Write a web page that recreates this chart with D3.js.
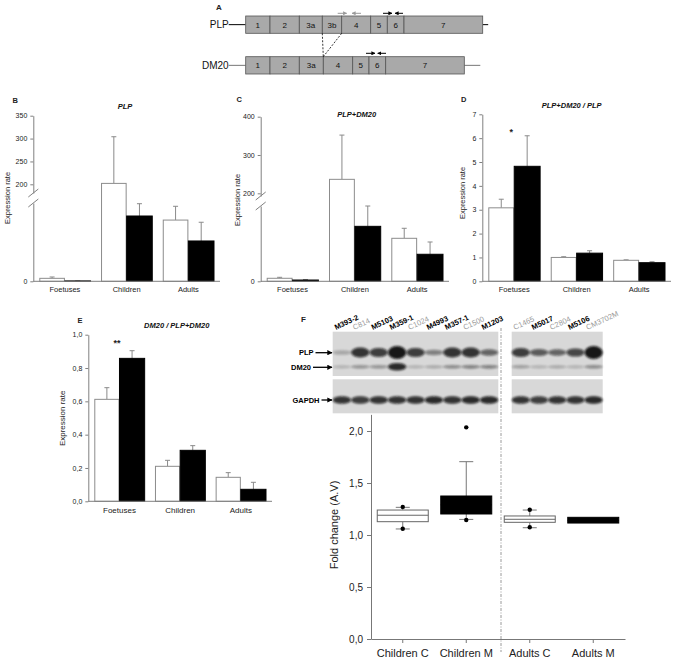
<!DOCTYPE html>
<html>
<head>
<meta charset="utf-8">
<script src="https://cdn.jsdelivr.net/npm/d3@7"></script>
<style>
  body { margin: 0; background: #fff; }
  svg { font-family: "Liberation Sans", Arial, sans-serif; }
</style>
</head>
<body>
<svg id="fig" width="688" height="665"></svg>
<script>
// ---------- data ----------
const groups = ["Foetuses", "Children", "Adults"];

// B: PLP (controls = white, patients = black)
const plpCtrl = [3.8, 202, 78.2];
const plpCtrlSd = [1.7, 102, 17.6];
const plpMut = [0.5, 83.4, 51.5];
const plpMutSd = [0, 15.7, 23.9];

// C: PLP+DM20
const totCtrl = [4, 236.5, 57.1];
const totCtrlSd = [1.3, 115.5, 13.3];
const totMut = [1.7, 73, 35.9];
const totMutSd = [0.7, 27, 16.3];

// D: PLP+DM20 / PLP
const ratioCtrl = [3.08, 1.0, 0.88];
const ratioCtrlSd = [0.36, 0.03, 0.02];
const ratioMut = [4.82, 1.18, 0.78];
const ratioMutSd = [1.28, 0.1, 0.04];

// E: DM20 / PLP+DM20
const dmCtrl = [0.612, 0.21, 0.144];
const dmCtrlSd = [0.07, 0.036, 0.028];
const dmMut = [0.858, 0.306, 0.072];
const dmMutSd = [0.046, 0.028, 0.042];

// A: exon structure (arbitrary length units)
const plpExonNames = ["1", "2", "3a", "3b", "4", "5", "6", "7"];
const plpExonLen = [24.3, 29.3, 23, 19.4, 29, 16.6, 16.7, 78.7];
const dm20ExonNames = ["1", "2", "3a", "4", "5", "6", "7"];
const dm20ExonLen = [24.3, 29.3, 24, 29.4, 16.3, 16.7, 78.6];
const plpPrimersGrey = [[92, 101], [115.3, 106.3]];
const plpPrimersBlack = [[137.3, 146.3], [157.3, 149.3]];
const dm20PrimersBlack = [[120.3, 129.3], [140.3, 132]];

// F: western blot lanes and band strengths (0..1)
const leftLanes = ["M393-2", "C814", "M5103", "M359-1", "C1024", "M4993", "M357-1", "C1500", "M1203"];
const rightLanes = ["C1465", "M5017", "C2804", "M5106", "CM3702M"];
const leftPLP = [0.25, 0.85, 0.8, 1.0, 0.8, 0.45, 0.85, 0.85, 0.6];
const leftDM20 = [0.2, 0.35, 0.35, 0.9, 0.2, 0.25, 0.4, 0.45, 0.45];
const leftGAPDH = [0.85, 0.8, 0.85, 0.85, 0.85, 0.9, 0.85, 0.9, 0.9];
const rightPLP = [0.8, 0.65, 0.6, 0.75, 1.0];
const rightDM20 = [0.3, 0.2, 0.25, 0.2, 0.4];
const rightGAPDH = [0.85, 0.8, 0.85, 0.85, 0.9];

// F: box plot
const boxCats = ["Children C", "Children M", "Adults C", "Adults M"];
const boxQ1 = [1.128, 1.202, 1.122, 1.115];
const boxMed = [1.19, 1.29, 1.151, 1.14];
const boxQ3 = [1.24, 1.375, 1.183, 1.17];
const boxLow = [1.058, 1.15, 1.07, 1.115];
const boxHigh = [1.266, 1.705, 1.24, 1.17];
const boxDots = [[1.27, 1.06], [1.144, 2.035], [1.243, 1.075], []];

// ---------- drawing ----------
const svg = d3.select("#fig");
const axisCol = "#808080";
const textCol = "#222";

const defs = svg.append("defs");
defs.append("filter").attr("id", "blur")
  .attr("x", "-50%").attr("y", "-100%").attr("width", "200%").attr("height", "300%")
  .append("feGaussianBlur").attr("stdDeviation", 1.1);
function arrowMarker(id, col) {
  defs.append("marker").attr("id", id)
    .attr("viewBox", "0 0 10 10").attr("refX", 9).attr("refY", 5)
    .attr("markerWidth", 4).attr("markerHeight", 4).attr("orient", "auto")
    .append("path").attr("d", "M0,0L10,5L0,10z").attr("fill", col);
}
arrowMarker("arrGrey", "#9a9a9a");
arrowMarker("arrBlack", "#000");
arrowMarker("arrBlot", "#000");

function label(g, x, y, txt, opts = {}) {
  return g.append("text").attr("x", x).attr("y", y).text(txt)
    .attr("font-size", opts.size || 8)
    .attr("font-weight", opts.weight || "normal")
    .attr("font-style", opts.style || "normal")
    .attr("text-anchor", opts.anchor || "start")
    .attr("fill", opts.fill || textCol);
}

// ----- Panel A -----
(function () {
  const g = svg.append("g");
  const xA = d3.scaleLinear().domain([0, d3.sum(plpExonLen)]).range([245.7, 482.7]);
  label(g, 216, 10, "A", { weight: "bold", size: 8 });

  function geneRow(names, lens, y0, y1, name, lineEnd, lineCol) {
    const starts = d3.cumsum([0].concat(lens));
    g.append("line").attr("x1", xA(0) - 17).attr("x2", xA(0))
      .attr("y1", (y0 + y1) / 2).attr("y2", (y0 + y1) / 2).attr("stroke", lineCol);
    g.append("line").attr("x1", xA(starts[lens.length])).attr("x2", xA(starts[lens.length] + lineEnd))
      .attr("y1", (y0 + y1) / 2).attr("y2", (y0 + y1) / 2).attr("stroke", lineCol);
    g.selectAll(null).data(names).join("rect")
      .attr("x", (d, i) => xA(starts[i])).attr("width", (d, i) => xA(lens[i]) - xA(0))
      .attr("y", y0).attr("height", y1 - y0)
      .attr("fill", "#a9a9a9").attr("stroke", "#555").attr("stroke-width", 0.8);
    g.selectAll(null).data(names).join("text")
      .attr("x", (d, i) => xA(starts[i] + lens[i] / 2)).attr("y", (y0 + y1) / 2 + 3)
      .attr("text-anchor", "middle").attr("font-size", 8).attr("fill", "#111").text(d => d);
    label(g, xA(0) - 17, (y0 + y1) / 2 + 3.5, name, { anchor: "end", size: 10, fill: "#111" });
    return starts;
  }
  const ps = geneRow(plpExonNames, plpExonLen, 16, 33.3, "PLP", 5.5, "#000");
  const ds = geneRow(dm20ExonNames, dm20ExonLen, 56.7, 74, "DM20", 16, "#777");

  // splice lines from exon 3b to DM20
  [ps[3], ps[4]].forEach(u => {
    g.append("line").attr("x1", xA(u)).attr("y1", 33.3).attr("x2", xA(ds[3])).attr("y2", 56.7)
      .attr("stroke", "#000").attr("stroke-width", 0.8).attr("stroke-dasharray", "2,1.5");
  });

  function primers(list, y, col, marker) {
    list.forEach(p => {
      g.append("line").attr("x1", xA(p[0])).attr("x2", xA(p[1])).attr("y1", y).attr("y2", y)
        .attr("stroke", col).attr("stroke-width", 1).attr("marker-end", `url(#${marker})`);
    });
  }
  primers(plpPrimersGrey, 13.3, "#9a9a9a", "arrGrey");
  primers(plpPrimersBlack, 13.3, "#000", "arrBlack");
  primers(dm20PrimersBlack, 53.3, "#000", "arrBlack");
})();

// ----- Bar panels B..E -----
function barPanel(opt) {
  const g = svg.append("g");
  const x0 = d3.scaleBand().domain(groups).range([opt.left + 6, opt.right - 6]).paddingInner(0.17);
  const x1 = d3.scaleBand().domain([0, 1]).range([0, x0.bandwidth()]);
  const scales = opt.segments.map(s => d3.scaleLinear().domain(s.domain).range(s.range));
  const y = v => {
    for (let i = 0; i < scales.length; i++) {
      if (v <= opt.segments[i].domain[1] || i === scales.length - 1) return scales[i](v);
    }
  };
  const base = y(0);

  const series = [
    { mean: opt.ctrl, sd: opt.ctrlSd, fill: "#fff", stroke: "#8c8c8c" },
    { mean: opt.mut, sd: opt.mutSd, fill: "#000", stroke: "#000" }
  ];

  // error bars first (behind bars)
  series.forEach((s, si) => {
    const cx = (d, i) => x0(groups[i]) + x1(si) + x1.bandwidth() / 2;
    g.selectAll(null).data(s.mean).join("line")
      .attr("x1", cx).attr("x2", cx)
      .attr("y1", (d) => y(d)).attr("y2", (d, i) => y(d + s.sd[i]))
      .attr("stroke", "#8a8a8a").attr("stroke-width", 1);
    g.selectAll(null).data(s.mean).join("line")
      .attr("x1", (d, i) => cx(d, i) - 2.5).attr("x2", (d, i) => cx(d, i) + 2.5)
      .attr("y1", (d, i) => y(d + s.sd[i])).attr("y2", (d, i) => y(d + s.sd[i]))
      .attr("stroke", "#8a8a8a").attr("stroke-width", 1);
  });
  series.forEach((s, si) => {
    g.selectAll(null).data(s.mean).join("rect")
      .attr("x", (d, i) => x0(groups[i]) + x1(si) + (si === 0 ? 0.5 : 0))
      .attr("width", x1.bandwidth() - (si === 0 ? 1 : 0))
      .attr("y", d => y(d)).attr("height", d => base - y(d))
      .attr("fill", s.fill).attr("stroke", s.stroke).attr("stroke-width", 1);
  });

  // y axis segments
  opt.segments.forEach((s, i) => {
    const ax = g.append("g").attr("transform", `translate(${opt.left},0)`)
      .call(d3.axisLeft(scales[i]).tickValues(s.ticks).tickSize(3).tickSizeOuter(0)
        .tickPadding(3).tickFormat(opt.fmt));
    ax.select(".domain").attr("stroke", axisCol);
    ax.selectAll(".tick line").attr("stroke", axisCol);
    ax.selectAll(".tick text").attr("font-size", opt.tickSize).attr("fill", textCol)
      .attr("font-family", "Liberation Sans, Arial, sans-serif");
  });
  // break marks
  if (opt.segments.length > 1) {
    [opt.segments[0].range[1], opt.segments[1].range[0]].forEach(yy => {
      g.append("line").attr("x1", opt.left - 5).attr("x2", opt.left + 5)
        .attr("y1", yy + 4).attr("y2", yy - 4).attr("stroke", axisCol).attr("stroke-width", 1);
    });
  }

  // x axis
  g.append("line").attr("x1", opt.left).attr("x2", opt.right)
    .attr("y1", base).attr("y2", base).attr("stroke", axisCol);
  g.selectAll(null).data(groups).join("text")
    .attr("x", d => x0(d) + x0.bandwidth() / 2).attr("y", base + opt.xLabelDy)
    .attr("text-anchor", "middle").attr("font-size", opt.xSize).attr("fill", textCol).text(d => d);

  // labels
  label(g, opt.letter[0], opt.letter[1], opt.letter[2], { weight: "bold", size: 7.5 });
  label(g, opt.title[0], opt.title[1], opt.title[2], { weight: "bold", style: "italic", size: 7.5, anchor: "middle", fill: "#111" });
  g.append("text").attr("transform", `translate(${opt.ylab[0]},${opt.ylab[1]}) rotate(-90)`)
    .attr("text-anchor", "middle").attr("font-size", opt.ylabSize).attr("fill", textCol).text("Expression rate");

  if (opt.star) {
    const sx = x0(groups[0]) + x1(1) + opt.star.dx;
    label(g, sx, opt.star.y, opt.star.text, { anchor: "middle", size: 9, weight: "bold", fill: "#222" });
  }
}

barPanel({
  left: 33.3, right: 220,
  segments: [
    { domain: [0, 100], range: [281.3, 203], ticks: [0] },
    { domain: [181, 350], range: [193, 115.7], ticks: [200, 250, 300, 350] }
  ],
  ctrl: plpCtrl, ctrlSd: plpCtrlSd, mut: plpMut, mutSd: plpMutSd,
  fmt: d3.format("d"), tickSize: 7, xSize: 7.5, xLabelDy: 11,
  letter: [12.5, 102.5, "B"], title: [125, 108.5, "PLP"], ylab: [10, 198], ylabSize: 7.5
});

barPanel({
  left: 260.7, right: 449,
  segments: [
    { domain: [0, 100], range: [281.3, 206], ticks: [0] },
    { domain: [193, 400], range: [196, 116.7], ticks: [200, 300, 400] }
  ],
  ctrl: totCtrl, ctrlSd: totCtrlSd, mut: totMut, mutSd: totMutSd,
  fmt: d3.format("d"), tickSize: 7, xSize: 7.5, xLabelDy: 11,
  letter: [236.5, 102, "C"], title: [356.7, 117, "PLP+DM20"], ylab: [239.5, 200], ylabSize: 7.5
});

barPanel({
  left: 482.3, right: 671,
  segments: [{ domain: [0, 7], range: [281.3, 114.3], ticks: d3.range(0, 8) }],
  ctrl: ratioCtrl, ctrlSd: ratioCtrlSd, mut: ratioMut, mutSd: ratioMutSd,
  fmt: d3.format("d"), tickSize: 7, xSize: 7.5, xLabelDy: 11,
  letter: [461, 101.5, "D"], title: [571.7, 107.5, "PLP+DM20 / PLP"], ylab: [465, 193], ylabSize: 7.5,
  star: { dx: -3, y: 134.5, text: "*" }
});

barPanel({
  left: 88.3, right: 272,
  segments: [{ domain: [0, 1], range: [501.3, 334.7], ticks: [0, 0.2, 0.4, 0.6, 0.8, 1.0] }],
  ctrl: dmCtrl, ctrlSd: dmCtrlSd, mut: dmMut, mutSd: dmMutSd,
  fmt: d => d3.format(".1f")(d).replace(".", ","), tickSize: 7, xSize: 8, xLabelDy: 12,
  letter: [77.5, 322.5, "E"], title: [176.7, 327.5, "DM20 / PLP+DM20"], ylab: [64.5, 418.3], ylabSize: 8,
  star: { dx: -2.5, y: 346, text: "**" }
});

// ----- Panel F: western blot -----
(function () {
  const g = svg.append("g");
  label(g, 301, 321.5, "F", { weight: "bold", size: 8 });

  const strips = [{ y0: 331.7, y1: 376 }, { y0: 379.3, y1: 413.3 }];
  function blot(lanes, plp, dm20, gapdh, x0, x1) {
    const xl = d3.scaleBand().domain(lanes).range([x0, x1]);
    strips.forEach(s => {
      g.append("rect").attr("x", x0).attr("y", s.y0).attr("width", x1 - x0).attr("height", s.y1 - s.y0)
        .attr("fill", "#d8d8d8");
    });
    const op = d3.scaleLinear().domain([0, 1]).range([0, 0.95]);
    const bands = [
      { vals: plp, y: 352.5, ry: v => 2.3 + 4.2 * v * v * v },
      { vals: dm20, y: 366.8, ry: v => 1.6 + 3 * v * v * v },
      { vals: gapdh, y: 400, ry: v => 3.8 }
    ];
    bands.forEach(b => {
      g.selectAll(null).data(lanes).join("ellipse")
        .attr("cx", d => xl(d) + xl.bandwidth() / 2).attr("cy", b.y)
        .attr("rx", xl.bandwidth() * 0.5).attr("ry", (d, i) => b.ry(b.vals[i]))
        .attr("fill", "#0a0a0a").attr("opacity", (d, i) => op(b.vals[i]))
        .attr("filter", "url(#blur)");
    });
    g.selectAll(null).data(lanes).join("text")
      .attr("transform", d => `translate(${xl(d) + xl.bandwidth() / 2 - 6},330) rotate(-25)`)
      .attr("font-size", 7.5)
      .attr("font-weight", d => d.startsWith("M") ? "bold" : "normal")
      .attr("fill", d => d.startsWith("M") ? "#000" : "#999")
      .text(d => d);
  }
  blot(leftLanes, leftPLP, leftDM20, leftGAPDH, 332.7, 498.3);
  blot(rightLanes, rightPLP, rightDM20, rightGAPDH, 511.7, 602.7);

  [["PLP", 352.7, 313.5, 315.5], ["DM20", 367.3, 311, 313], ["GAPDH", 400, 319.5, 321.5]].forEach(r => {
    label(g, r[2], r[1] + 2.7, r[0], { anchor: "end", weight: "bold", size: 7.5, fill: "#000" });
    g.append("line").attr("x1", r[3]).attr("x2", 332).attr("y1", r[1]).attr("y2", r[1])
      .attr("stroke", "#000").attr("stroke-width", 1.3).attr("marker-end", "url(#arrBlot)");
  });
})();

// ----- Panel F: box plot -----
(function () {
  const g = svg.append("g");
  const left = 371, right = 625, bottom = 639, perUnit = 104;
  const xF = d3.scaleBand().domain(boxCats).range([left, right]);
  const yF = d3.scaleLinear().domain([0, 2.16]).range([bottom, bottom - 2.16 * perUnit]);
  const cx = c => xF(c) + xF.bandwidth() / 2;
  const boxW = 51, capW = 14;

  // separator
  const sepX = (cx(boxCats[1]) + cx(boxCats[2])) / 2 + 3;
  g.append("line").attr("x1", sepX).attr("x2", sepX).attr("y1", 328).attr("y2", 652)
    .attr("stroke", "#9a9a9a").attr("stroke-width", 1).attr("stroke-dasharray", "3,1.5,1,1.5");

  const ay = g.append("g").attr("transform", `translate(${left},0)`)
    .call(d3.axisLeft(yF).tickValues([0, 0.5, 1, 1.5, 2]).tickSize(4).tickSizeOuter(0).tickPadding(4)
      .tickFormat(d => d3.format(".1f")(d).replace(".", ",")));
  ay.select(".domain").attr("stroke", "#777");
  ay.selectAll(".tick line").attr("stroke", "#777");
  ay.selectAll(".tick text").attr("font-size", 10).attr("fill", textCol)
    .attr("font-family", "Liberation Sans, Arial, sans-serif");

  const ax = g.append("g").attr("transform", `translate(0,${bottom})`)
    .call(d3.axisBottom(xF).tickSize(4).tickSizeOuter(0).tickPadding(6));
  ax.select(".domain").attr("stroke", "#777");
  ax.selectAll(".tick line").attr("stroke", "#777");
  ax.selectAll(".tick text").attr("font-size", 11).attr("fill", textCol)
    .attr("font-family", "Liberation Sans, Arial, sans-serif");

  boxCats.forEach((c, i) => {
    const isMut = c.endsWith("M");
    const x = cx(c);
    // whiskers
    [[boxQ3[i], boxHigh[i]], [boxQ1[i], boxLow[i]]].forEach(w => {
      if (w[0] === w[1]) return;
      g.append("line").attr("x1", x).attr("x2", x).attr("y1", yF(w[0])).attr("y2", yF(w[1]))
        .attr("stroke", "#777");
      g.append("line").attr("x1", x - capW / 2).attr("x2", x + capW / 2).attr("y1", yF(w[1])).attr("y2", yF(w[1]))
        .attr("stroke", "#777");
    });
    g.append("rect").attr("x", x - boxW / 2).attr("width", boxW)
      .attr("y", yF(boxQ3[i])).attr("height", yF(boxQ1[i]) - yF(boxQ3[i]))
      .attr("fill", isMut ? "#000" : "#fff").attr("stroke", isMut ? "#000" : "#666").attr("stroke-width", 1);
    g.append("line").attr("x1", x - boxW / 2).attr("x2", x + boxW / 2)
      .attr("y1", yF(boxMed[i])).attr("y2", yF(boxMed[i]))
      .attr("stroke", isMut ? "#000" : "#666");
    g.selectAll(null).data(boxDots[i]).join("circle")
      .attr("cx", x).attr("cy", d => yF(d)).attr("r", 2.2).attr("fill", "#000");
  });

  g.append("text").attr("transform", `translate(338,525) rotate(-90)`)
    .attr("text-anchor", "middle").attr("font-size", 11).attr("fill", textCol).text("Fold change (A.V)");
})();
</script>
</body>
</html>
